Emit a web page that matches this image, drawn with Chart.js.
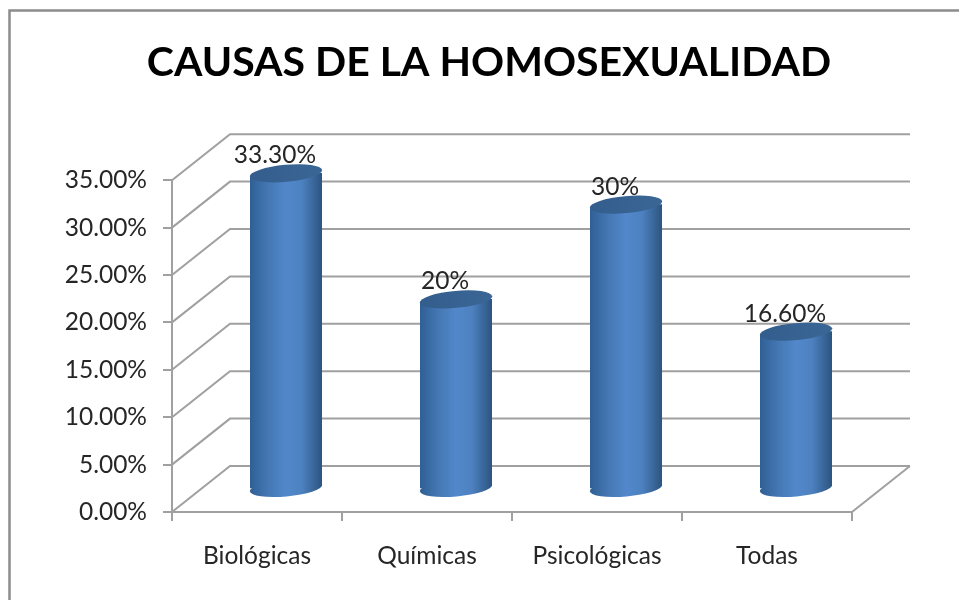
<!DOCTYPE html>
<html><head><meta charset="utf-8">
<style>html,body{margin:0;padding:0;background:#fff}#w{width:959px;height:600px;position:relative}canvas{display:block}</style>
<script src="https://cdn.jsdelivr.net/npm/chart.js@4"></script></head>
<body><div id="w"><canvas id="c" width="959" height="600"></canvas></div>
<script>
const categories = ['Biológicas','Químicas','Psicológicas','Todas'];
const values = [33.3,20,30,16.6];
const valueLabels = ['33.30%','20%','30%','16.60%'];
const titleText = 'CAUSAS DE LA HOMOSEXUALIDAD';
const FONT = 'Lato, "Open Sans", sans-serif';
const depthX = 58, depthY = -46;
const grid = '#a0a0a0';
const tilt = 0.09, capRy = 8.5;

function barGrad(ctx, l, r){
  const g = ctx.createLinearGradient(l,0,r,0);
  g.addColorStop(0,'#2f5f94'); g.addColorStop(0.25,'#4477b3');
  g.addColorStop(0.5,'#5288cb'); g.addColorStop(0.72,'#4d81c0');
  g.addColorStop(1,'#2c5480');
  return g;
}
const walls = {
  id:'walls',
  afterLayout(ch){
    ch.titleBlock.left = 0; ch.titleBlock.right = 978;
  },
  beforeDraw(ch){
    const c = ch.ctx, a = ch.chartArea, y = ch.scales.y;
    c.save();
    c.fillStyle='#fff'; c.fillRect(0,0,959,600);
    c.strokeStyle='#8c8c8c'; c.lineWidth=2.5;
    c.beginPath(); c.moveTo(9.5,600); c.lineTo(9.5,10.5); c.lineTo(959,10.5); c.stroke();
    c.strokeStyle=grid; c.lineWidth=2;
    c.beginPath();
    y.ticks.forEach(t=>{
      const p = y.getPixelForValue(t.value);
      c.moveTo(a.left,p); c.lineTo(a.left+depthX,p+depthY); c.lineTo(a.right+depthX,p+depthY);
    });
    c.moveTo(a.right,a.bottom); c.lineTo(a.right+depthX,a.bottom+depthY);
    c.stroke();
    c.restore();
  },
  beforeDatasetDraw(ch){
    const c = ch.ctx;
    const bars = ch.getDatasetMeta(0).data;
    c.save(); c.translate(depthX/2,depthY/2);
    bars.forEach(b=>{
      const w=b.width/2;
      c.fillStyle=barGrad(c,b.x-w,b.x+w);
      c.beginPath(); c.ellipse(b.x,b.base,w+0.3,capRy,-tilt,0,Math.PI*2); c.fill();
    });
    c.save();
    c.beginPath();
    bars.forEach(b=>{
      const w=b.width/2, d=w*Math.sin(tilt);
      c.moveTo(b.x-w,b.y+d); c.lineTo(b.x+w,b.y-d); c.lineTo(b.x+w,b.base-d+1); c.lineTo(b.x-w,b.base+d+1); c.closePath();
    });
    c.clip();
  },
  afterDatasetDraw(ch){
    const c = ch.ctx;
    c.restore();
    ch.getDatasetMeta(0).data.forEach((b,i)=>{
      const w=b.width/2;
      const g=c.createLinearGradient(b.x-w,0,b.x+w,0);
      g.addColorStop(0,'#335d8d'); g.addColorStop(1,'#3a6696');
      c.fillStyle=g;
      c.beginPath(); c.ellipse(b.x,b.y,w+0.3,capRy,-tilt,0,Math.PI*2); c.fill();
      c.fillStyle='#262626'; c.font='24.5px '+FONT; c.textAlign='center'; c.textBaseline='alphabetic';
      c.fillText(valueLabels[i],b.x-11,b.y-10);
    });
    c.restore();
  }
};
new Chart(document.getElementById('c'),{
  type:'bar',
  data:{labels:categories,datasets:[{data:values,clip:false,borderWidth:0,
    barThickness:72,
    backgroundColor(ctx){
      const x = ctx.chart.scales.x ? ctx.chart.scales.x.getPixelForValue(ctx.dataIndex) : NaN;
      if(!Number.isFinite(x)) return '#4f81bd';
      return barGrad(ctx.chart.ctx,x-36,x+36);
    }}]},
  plugins:[walls],
  options:{
    responsive:false,animation:false,
    layout:{padding:{left:0,right:107,top:38,bottom:0}},
    plugins:{
      legend:{display:false},tooltip:{enabled:false},
      title:{display:true,text:titleText,color:'#000',font:{family:FONT,size:41,weight:'bold'},padding:{top:0,bottom:93},align:'center'}
    },
    scales:{
      x:{
        afterFit(s){s.height=88},
        grid:{display:true,drawOnChartArea:false,drawTicks:true,tickLength:9,color:grid,lineWidth:2,offset:true},
        border:{color:grid,width:2},
        ticks:{color:'#262626',font:{family:FONT,size:24.5},padding:20,maxRotation:0}
      },
      y:{
        min:0,max:35,
        afterFit(s){s.width=172},
        grid:{drawOnChartArea:false,drawTicks:true,tickLength:9,color:grid,lineWidth:2},
        border:{color:grid,width:2},
        ticks:{stepSize:5,color:'#262626',font:{family:FONT,size:24.5},padding:16,callback:v=>v.toFixed(2)+'%'}
      }
    }
  }
});
</script></body></html>
